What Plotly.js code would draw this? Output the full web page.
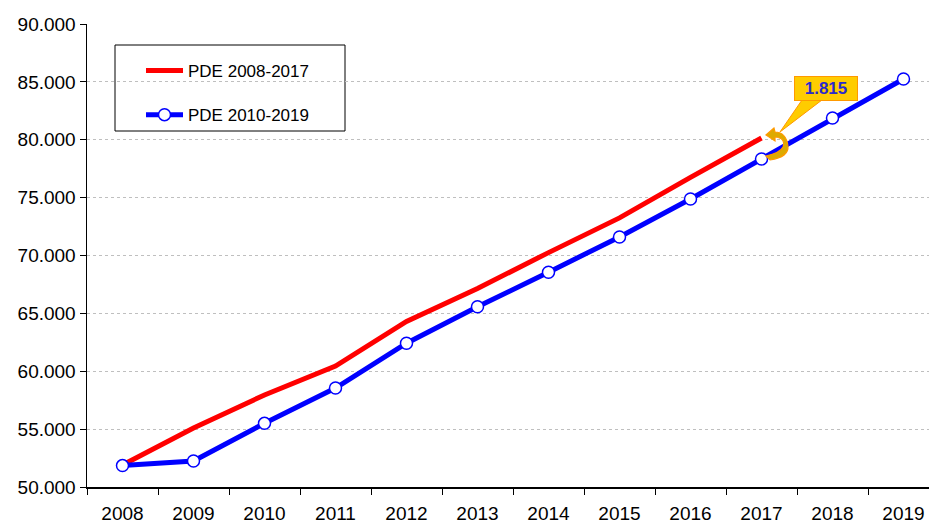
<!DOCTYPE html>
<html>
<head>
<meta charset="utf-8">
<script src="https://cdn.plot.ly/plotly-3.0.1.min.js"></script>
<style>html,body{margin:0;padding:0;background:#fff;}#chart{width:929px;height:524px;}</style>
</head>
<body>
<div id="chart"></div>
<script>
const years = ['2008','2009','2010','2011','2012','2013','2014','2015','2016','2017','2018','2019'];
const yearsA = ['2008','2009','2010','2011','2012','2013','2014','2015','2016','2017'];
const pdeA = [51900, 55100, 57950, 60450, 64300, 67150, 70250, 73250, 76750, 80150];
const pdeB = [51850, 52250, 55500, 58550, 62420, 65570, 68560, 71600, 74880, 78335, 81880, 85250];
const nameA = 'PDE 2008-2017';
const nameB = 'PDE 2010-2019';
const yTicks = [50000, 55000, 60000, 65000, 70000, 75000, 80000, 85000, 90000];

const L = 87, R = 929, T = 24, B = 487;
const px = x => (x - L) / (R - L);
const py = y => (B - y) / (B - T);

const diff = pdeA[pdeA.length - 1] - pdeB[yearsA.length - 1];

const traces = [
  {x: yearsA, y: pdeA, name: nameA, type: 'scatter', mode: 'lines',
   line: {color: '#FF0000', width: 5}, legendgroup: 'a'},
  {x: years, y: pdeB, name: nameB, type: 'scatter', mode: 'lines+markers',
   line: {color: '#0000FF', width: 5},
   marker: {symbol: 'circle', size: 12, color: '#FFFFFF', line: {color: '#0000FF', width: 1.5}},
   legendgroup: 'b'}
];

function P(x, y) { return px(x).toFixed(4) + ',' + py(y).toFixed(4); }
const wedge = 'M' + P(802, 100) + ' L' + P(780, 132) + ' L' + P(822, 100) + ' Z';
const curl = 'M' + P(774, 128) + ' L' + P(766, 135) + ' L' + P(775, 141) + ' L' + P(775, 137)
  + ' Q' + P(786, 138) + ' ' + P(783, 147) + ' Q' + P(780, 153) + ' ' + P(766, 156)
  + ' L' + P(770, 160) + ' Q' + P(789, 157) + ' ' + P(788, 146) + ' Q' + P(786, 132) + ' ' + P(775, 132) + ' Z';

const layout = {
  width: 929, height: 524,
  margin: {l: L, r: 929 - R, t: T, b: 524 - B, pad: 0},
  paper_bgcolor: '#FFFFFF', plot_bgcolor: '#FFFFFF',
  separators: ',.',
  font: {family: '"Liberation Sans", Arial, sans-serif', color: '#000000', size: 18},
  showlegend: true,
  legend: {x: px(141), y: py(53), xanchor: 'left', yanchor: 'top',
    bgcolor: 'rgba(0,0,0,0)', borderwidth: 0, font: {size: 17, color: '#000000'},
    tracegroupgap: 19, traceorder: 'grouped', itemwidth: 37},
  xaxis: {type: 'category', range: [-0.5, (R - L) / 71 - 0.5], showgrid: false,
    showline: true, linecolor: '#000000', linewidth: 1.5,
    ticks: 'outside', ticklen: 6, tickcolor: '#000000', tickwidth: 1,
    ticklabelstandoff: 9,
    tickson: 'boundaries', tickfont: {size: 19}, zeroline: false, fixedrange: true},
  yaxis: {range: [50000, 90000], tickvals: yTicks, tickformat: ',d',
    showline: true, linecolor: '#000000', linewidth: 1.5,
    ticks: 'outside', ticklen: 6, tickcolor: '#000000', tickwidth: 1,
    showgrid: true, gridcolor: '#BFBFBF', gridwidth: 1, griddash: '3px,3px',
    zeroline: false, tickfont: {size: 19}, fixedrange: true},
  shapes: [
    {type: 'rect', xref: 'paper', yref: 'paper', x0: px(115), x1: px(345), y0: py(131), y1: py(45),
     line: {color: '#000000', width: 1}, fillcolor: '#FFFFFF', layer: 'below'},
    {type: 'path', xref: 'paper', yref: 'paper', path: wedge,
     fillcolor: '#FFCC00', line: {color: '#FF9900', width: 1}},
    {type: 'path', xref: 'paper', yref: 'paper', path: curl,
     fillcolor: '#DDAA00', line: {color: '#FF9900', width: 1.2}}
  ],
  annotations: [
    {xref: 'paper', yref: 'paper', x: px(826), y: py(88), xanchor: 'center', yanchor: 'middle',
     text: '<b>' + diff.toLocaleString('de-DE') + '</b>', showarrow: false,
     font: {size: 17, color: '#2A2ACC', family: '"Liberation Sans", Arial, sans-serif'},
     bgcolor: '#FFCC00', bordercolor: '#FF9900', borderwidth: 1, borderpad: 0,
     width: 62, height: 23}
  ]
};

Plotly.newPlot('chart', traces, layout, {displayModeBar: false, staticPlot: true});
</script>
</body>
</html>
